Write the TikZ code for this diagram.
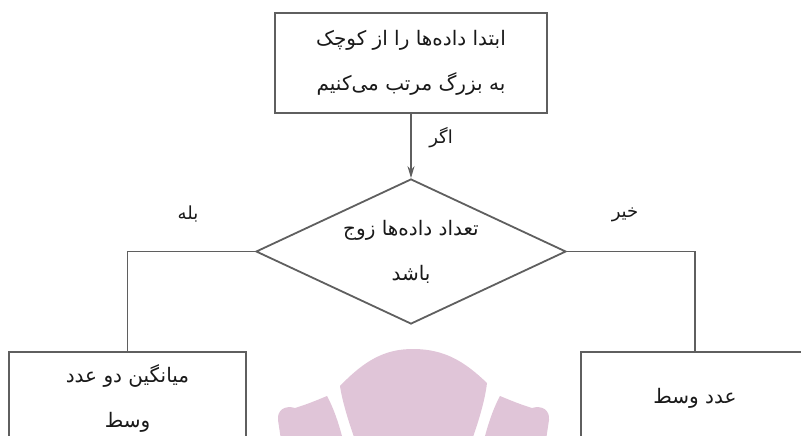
\documentclass[tikz,border=0pt]{standalone}
\usepackage{fontspec}
\usetikzlibrary{shapes.geometric,arrows.meta}
\TeXXeTstate=1
\newfontfamily\arabicfont[Script=Arabic]{DejaVu Sans}
\newcommand{\fatext}[1]{\beginR #1\endR}
\definecolor{wm}{RGB}{224,197,216}
\definecolor{ln}{RGB}{95,95,95}
\tikzset{
  fa/.style={font=\arabicfont\fontsize{20pt}{45pt}\selectfont, text=black!90, align=center},
  boxnode/.style={fa, draw=ln, line width=1.8pt, rectangle, inner sep=0pt},
  decnode/.style={fa, draw=ln, line width=1.8pt, diamond, shape aspect=2.14, inner sep=0pt, minimum width=310pt, minimum height=145pt},
  conn/.style={draw=ln, line width=1.8pt},
  lbl/.style={font=\arabicfont\fontsize{18pt}{20pt}\selectfont, text=black!90}
}
\begin{document}
\begin{tikzpicture}[x=1pt,y=-1pt]
\useasboundingbox (0,0) rectangle (801,436);
% watermark
\fill[wm] (355,440) .. controls (348,420) and (342,400) .. (340,386)
  .. controls (365,360) and (385,349) .. (413,349)
  .. controls (445,349) and (465,362) .. (487,383)
  .. controls (485,400) and (479,420) .. (472,440) -- cycle;
\fill[wm] (343,440) .. controls (338,420) and (332,405) .. (327,396)
  .. controls (315,401) and (305,405) .. (295,408)
  .. controls (285,405) and (277,410) .. (278,420) -- (281,440) -- cycle;
\fill[wm] (484,440) .. controls (489,420) and (495,405) .. (500,396)
  .. controls (512,401) and (522,405) .. (532,408)
  .. controls (542,405) and (550,410) .. (549,420) -- (546,440) -- cycle;
% nodes
\node[boxnode, minimum width=272pt, minimum height=100pt] (top) at (411,63)
  {\fatext{ابتدا داده‌ها را از کوچک}\\\fatext{به بزرگ مرتب می‌کنیم}};
\node[decnode] (dec) at (411,251.5)
  {\fatext{تعداد داده‌ها زوج}\\\fatext{باشد}};
\node[boxnode, minimum width=237pt, minimum height=92pt] (lbox) at (127.5,398)
  {\fatext{میانگین دو عدد}\\\fatext{وسط}};
\node[boxnode, minimum width=228pt, minimum height=92pt] (rbox) at (695,398)
  {\fatext{عدد وسط}};
% labels
\node[lbl] (lif) at (441,138) {\fatext{اگر}};
\node[lbl] (lyes) at (188,214) {\fatext{بله}};
\node[lbl] (lno) at (625,215) {\fatext{خیر}};
% connectors
\draw[conn, -{Stealth[length=12pt,width=7pt]}] (top.south) -- (dec.north);
\draw[conn] (dec.west) -| (lbox.north);
\draw[conn] (dec.east) -| (rbox.north);
\end{tikzpicture}
\end{document}
